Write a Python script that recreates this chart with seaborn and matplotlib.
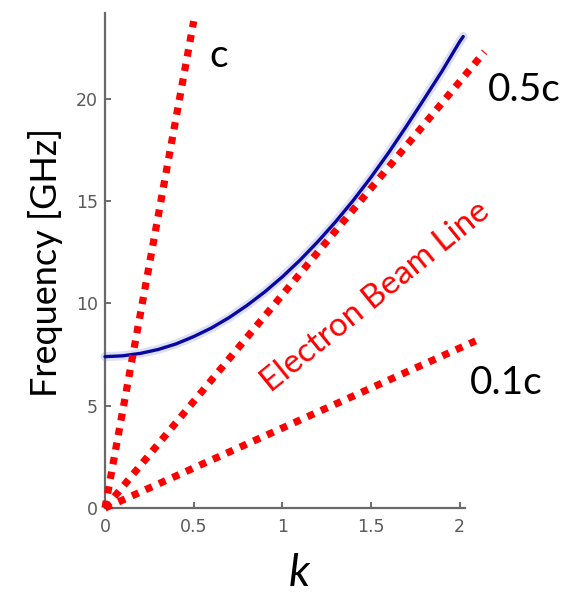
import numpy as np
import pandas as pd
import matplotlib
matplotlib.use("Agg")
import matplotlib.pyplot as plt
import seaborn as sns

# Dispersion curve of the slow-wave structure (frequency in GHz vs k)
k_vals = [0.0, 0.1, 0.2, 0.3, 0.4, 0.5, 0.6, 0.7, 0.8, 0.9, 1.0,
          1.1, 1.2, 1.3, 1.4, 1.5, 1.6, 1.7, 1.8, 1.9, 2.0, 2.02]
freq_vals = [7.40, 7.44, 7.56, 7.75, 8.02, 8.38, 8.80, 9.31, 9.90, 10.56, 11.30,
             12.12, 13.02, 13.99, 15.04, 16.17, 17.38, 18.67, 20.00, 21.35, 22.80, 23.05]

# Light lines (start at the origin, end points listed)
light_names = ["c", "0.5c", "0.1c"]
light_k_end = [0.50, 2.14, 2.09]
light_f_end = [23.8, 22.3, 8.17]

x_ticks = [0, 0.5, 1, 1.5, 2]
x_tick_labels = ["0", "0.5", "1", "1.5", "2"]
y_ticks = [0, 5, 10, 15, 20]
y_tick_labels = ["0", "5", "10", "15", "20"]

sns.set_style("ticks")
plt.rcParams["font.family"] = ["DejaVu Sans"]

W, H = 573, 599
fig = plt.figure(figsize=(W / 100, H / 100), dpi=100)
ax_l, ax_r, ax_t, ax_b = 105, 465, 13, 508
ax = fig.add_axes([ax_l / W, 1 - ax_b / H, (ax_r - ax_l) / W, (ax_b - ax_t) / H])

curve = pd.DataFrame({"k": k_vals, "f": freq_vals})
# soft halo under the curve, then the curve itself
sns.lineplot(data=curve, x="k", y="f", ax=ax, color="#4050d0", lw=6.5,
             alpha=0.18, zorder=2, clip_on=False)
sns.lineplot(data=curve, x="k", y="f", ax=ax, color="#0808a0", lw=2.4,
             zorder=3, clip_on=False)

for name, ke, fe in zip(light_names, light_k_end, light_f_end):
    seg = pd.DataFrame({"k": [0.0, ke], "f": [0.0, fe]})
    sns.lineplot(data=seg, x="k", y="f", ax=ax, color="#ff0000", lw=5.2,
                 linestyle=(0, (1, 1.05)), dash_capstyle="butt",
                 zorder=5, clip_on=False)

ax.set_xlim(0, 2.03)
ax.set_ylim(0, 24.2)
ax.set_xticks(x_ticks, x_tick_labels)
ax.set_yticks(y_ticks, y_tick_labels)

for side in ("top", "right"):
    ax.spines[side].set_visible(False)
for side in ("left", "bottom"):
    ax.spines[side].set_color("#6a6a6a")
    ax.spines[side].set_linewidth(1.6)

ax.tick_params(axis="both", direction="in", length=4, width=1.2,
               colors="#555555", labelsize=12.5, labelcolor="#5a5a5a")
ax.tick_params(axis="x", pad=7)
ax.tick_params(axis="y", pad=5)

label_font = ["Lato", "DejaVu Sans"]
ax.set_ylabel("Frequency [GHz]", fontsize=26, family=label_font, color="black")
ax.yaxis.set_label_coords(-0.118, 0.497)
ax.set_xlabel("k", fontsize=32, family=label_font, style="italic", color="black")
ax.xaxis.set_label_coords(0.54, -0.09)

txt_kw = dict(fontsize=28, family=label_font, color="black",
              ha="center", va="center", clip_on=False)
ax.text(0.641, 22.1, "c", **txt_kw)
ax.text(2.366, 20.44, "0.5c", **txt_kw)
ax.text(2.265, 6.11, "0.1c", **txt_kw)

ax.text(1.525, 10.32, "Electron Beam Line", fontsize=24, family=label_font,
        color="#ff0000", rotation=39, rotation_mode="anchor",
        ha="center", va="center", clip_on=False)

fig.savefig("out.png", dpi=100)
